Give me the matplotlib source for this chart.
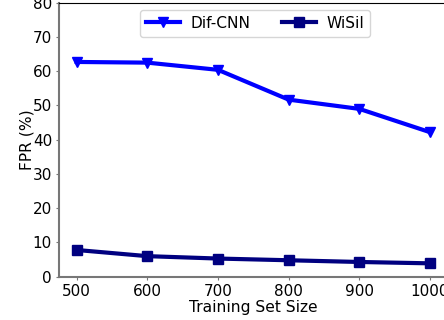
import matplotlib
matplotlib.use("Agg")
import matplotlib.pyplot as plt

sizes = [500, 600, 700, 800, 900, 1000]
dif_cnn = [62.7, 62.5, 60.4, 51.7, 49.0, 42.2]
wisil = [7.8, 6.0, 5.3, 4.8, 4.3, 3.9]

fig = plt.figure(figsize=(4.44, 3.2), dpi=100)
ax = fig.add_axes([59/444, 43.3/320, (447.6-59)/444, (276.7-2.7)/320])
ax.plot(sizes, dif_cnn, color='blue', marker='v', lw=3, ms=7.5, label='Dif-CNN')
ax.plot(sizes, wisil, color='navy', marker='s', lw=3, ms=7, label='WiSil')
ax.set_xlim(475, 1025)
ax.set_ylim(0, 80)
ax.set_xticks(sizes)
ax.set_yticks(range(0, 81, 10))
ax.tick_params(labelsize=11, color='#777777', length=2.5, pad=2.5)
for s in ['left', 'bottom']:
    ax.spines[s].set_color('#777777')
    ax.spines[s].set_linewidth(1.5)
ax.set_xlabel('Training Set Size', fontsize=11.2, labelpad=1)
ax.set_ylabel('FPR (%)', fontsize=11.2, labelpad=-1)
ax.legend(loc='upper center', ncol=2, fontsize=11.1, bbox_to_anchor=(0.505, 0.9745),
          borderaxespad=0, columnspacing=2.0, handlelength=2.2, handletextpad=0.7)
fig.savefig('out.png', dpi=100)
